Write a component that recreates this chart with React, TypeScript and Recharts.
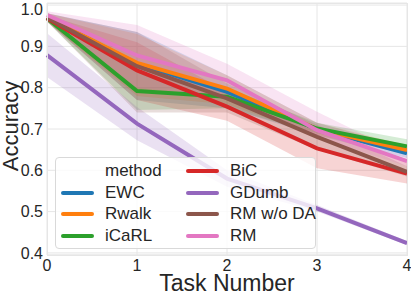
import React from 'react';
import { ComposedChart, Line, Area, XAxis, YAxis, CartesianGrid, Label } from 'recharts';

const TASKS = [0, 1, 2, 3, 4];
const Y_TICKS = [0.4, 0.5, 0.6, 0.7, 0.8, 0.9, 1.0];

const METHODS = ['EWC', 'Rwalk', 'iCaRL', 'BiC', 'GDumb', 'RM w/o DA', 'RM'];
const COLORS = ['#1f77b4', '#ff7f0e', '#2ca02c', '#d62728', '#9467bd', '#8c564b', '#e377c2'];

// mean accuracy per task
const EWC = [0.97, 0.858, 0.79, 0.7, 0.641];
const RWALK = [0.97, 0.86, 0.798, 0.7, 0.649];
const ICARL = [0.968, 0.792, 0.778, 0.701, 0.658];
const BIC = [0.968, 0.842, 0.754, 0.653, 0.592];
const GDUMB = [0.879, 0.713, 0.58, 0.508, 0.424];
const RM_NO_DA = [0.97, 0.852, 0.774, 0.681, 0.596];
const RM = [0.976, 0.878, 0.818, 0.697, 0.622];

// confidence band, lower / upper
const EWC_LO = [0.96, 0.77, 0.75, 0.685, 0.63];
const EWC_HI = [0.98, 0.935, 0.83, 0.715, 0.655];
const RWALK_LO = [0.96, 0.78, 0.76, 0.685, 0.64];
const RWALK_HI = [0.98, 0.93, 0.83, 0.715, 0.66];
const ICARL_LO = [0.96, 0.746, 0.75, 0.69, 0.645];
const ICARL_HI = [0.975, 0.84, 0.8, 0.715, 0.675];
const BIC_LO = [0.96, 0.77, 0.72, 0.605, 0.568];
const BIC_HI = [0.975, 0.91, 0.79, 0.7, 0.62];
const GDUMB_LO = [0.826, 0.673, 0.56, 0.5, 0.419];
const GDUMB_HI = [0.932, 0.753, 0.6, 0.516, 0.429];
const RM_NO_DA_LO = [0.96, 0.74, 0.74, 0.65, 0.585];
const RM_NO_DA_HI = [0.98, 0.935, 0.81, 0.71, 0.61];
const RM_LO = [0.97, 0.8, 0.78, 0.68, 0.61];
const RM_HI = [0.985, 0.952, 0.858, 0.742, 0.635];

const MEANS = [EWC, RWALK, ICARL, BIC, GDUMB, RM_NO_DA, RM];
const LOWS = [EWC_LO, RWALK_LO, ICARL_LO, BIC_LO, GDUMB_LO, RM_NO_DA_LO, RM_LO];
const HIGHS = [EWC_HI, RWALK_HI, ICARL_HI, BIC_HI, GDUMB_HI, RM_NO_DA_HI, RM_HI];

const data = TASKS.map((t, i) => {
  const row: Record<string, any> = { task: t };
  METHODS.forEach((_, m) => {
    row[`m${m}`] = MEANS[m][i];
    row[`b${m}`] = [LOWS[m][i], HIGHS[m][i]];
  });
  return row;
});

const FONT = '"Liberation Sans", Arial, sans-serif';
const TXT = '#262626';

const W = 411, H = 293;
const PLOT = { left: 47, top: 3, right: 407, bottom: 255 };

export default function App() {
  const legendRows = [
    [{ name: 'method', color: null }, { name: METHODS[3], color: COLORS[3] }],
    [{ name: METHODS[0], color: COLORS[0] }, { name: METHODS[4], color: COLORS[4] }],
    [{ name: METHODS[1], color: COLORS[1] }, { name: METHODS[5], color: COLORS[5] }],
    [{ name: METHODS[2], color: COLORS[2] }, { name: METHODS[6], color: COLORS[6] }],
  ];
  return (
    <div style={{ position: 'relative', width: W, height: H, fontFamily: FONT, background: '#fff' }}>
      <style>{`body{margin:0}`}</style>
      <ComposedChart width={W} height={H} data={data}
        margin={{ top: PLOT.top, right: W - PLOT.right, bottom: 0, left: 0 }}>
        <CartesianGrid stroke="#e6e6e6" strokeWidth={1} />
        <XAxis dataKey="task" type="number" domain={[0, 4]} ticks={TASKS} height={H - PLOT.bottom}
          tick={{ fontSize: 16, fill: TXT, fontFamily: FONT }} tickSize={0} tickMargin={5}
          axisLine={{ stroke: '#e6e6e6' }} tickLine={false}>
          <Label content={() => (
            <text x={227} y={283} textAnchor="middle" dominantBaseline="central"
              fontSize={23} fill={TXT} fontFamily={FONT}>Task Number</text>
          )} />
        </XAxis>
        <YAxis type="number" domain={[0.395, 1.005]} ticks={Y_TICKS} width={PLOT.left}
          allowDataOverflow tickFormatter={(v: number) => v.toFixed(1)}
          tick={{ fontSize: 16, fill: TXT, fontFamily: FONT }} tickSize={0} tickMargin={4}
          axisLine={false} tickLine={false}>
          <Label content={() => (
            <text x={10} y={126} textAnchor="middle" dominantBaseline="central"
              transform="rotate(-90 10 126)" fontSize={22} fill={TXT} fontFamily={FONT}>Accuracy</text>
          )} />
        </YAxis>
        {METHODS.map((m, i) => (
          <Area key={`band-${m}`} type="linear" dataKey={`b${i}`} stroke="none"
            fill={COLORS[i]} fillOpacity={0.2} isAnimationActive={false} activeDot={false} />
        ))}
        {METHODS.map((m, i) => (
          <Line key={`line-${m}`} type="linear" dataKey={`m${i}`} stroke={COLORS[i]}
            strokeWidth={4} dot={false} activeDot={false} isAnimationActive={false} />
        ))}
      </ComposedChart>
      <div style={{
        position: 'absolute', left: PLOT.left, top: PLOT.top,
        width: PLOT.right - PLOT.left - 1, height: PLOT.bottom - PLOT.top - 1,
        border: '1px solid #e6e6e6', pointerEvents: 'none',
      }} />
      <div style={{
        position: 'absolute', left: 55, top: 157, width: 261, height: 92, boxSizing: 'border-box',
        background: 'rgba(255,255,255,0.8)', border: '1px solid #d9d9d9', borderRadius: 4,
        fontSize: 17, color: TXT,
      }}>
        {legendRows.map((row, r) => (
          <div key={r} style={{ position: 'absolute', top: 3 + r * 21.5, left: 0, height: 20, width: '100%' }}>
            {row.map((e, c) => (
              <div key={c} style={{ position: 'absolute', left: c === 0 ? 5 : 130, top: 0, height: 20, display: 'flex', alignItems: 'center' }}>
                <div style={{ width: 33, height: 4, borderRadius: 2, background: e.color || 'transparent' }} />
                <span style={{ marginLeft: 11, whiteSpace: 'nowrap' }}>{e.name}</span>
              </div>
            ))}
          </div>
        ))}
      </div>
    </div>
  );
}
